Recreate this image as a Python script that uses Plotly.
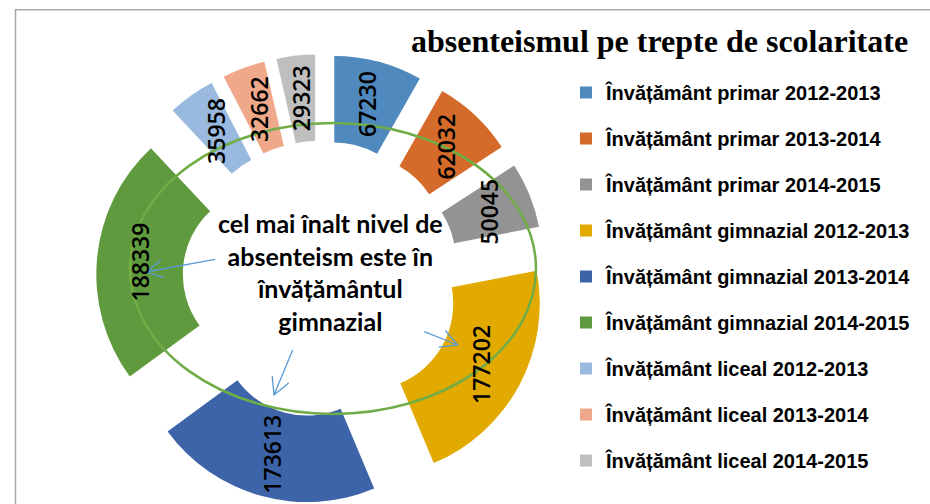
import math
import plotly.graph_objects as go

# ---- data ----
categories = [
    "Învățământ primar 2012-2013",
    "Învățământ primar 2013-2014",
    "Învățământ primar 2014-2015",
    "Învățământ gimnazial 2012-2013",
    "Învățământ gimnazial 2013-2014",
    "Învățământ gimnazial 2014-2015",
    "Învățământ liceal 2012-2013",
    "Învățământ liceal 2013-2014",
    "Învățământ liceal 2014-2015",
]
values = [67230, 62032, 50045, 177202, 173613, 188339, 35958, 32662, 29323]
colors = ["#4F89BE", "#D46B2A", "#939393", "#E2AA00", "#3D64A8",
          "#609A3E", "#99B9DF", "#F0A88B", "#BFBFBF"]
title_text = "absenteismul pe trepte de scolaritate"
note_lines = ["cel mai înalt nivel de", "absenteism este în", "învățământul", "gimnazial"]

# ---- geometry (pixels) ----
W, H = 930, 504
CX = 321
R = 173
HOLE = 0.5
PULL = 0.3
EXT = R * (1 + PULL)
CY = H - EXT


def px(x):
    return x / W


def py(y):
    return 1 - y / H


fig = go.Figure()

fig.add_trace(go.Pie(
    values=values,
    labels=categories,
    marker=dict(colors=colors, line=dict(width=0)),
    hole=HOLE,
    pull=[PULL] * len(values),
    sort=False,
    direction="clockwise",
    rotation=0,
    textinfo="none",
    showlegend=False,
    hoverinfo="label+value",
    domain=dict(x=[px(CX - EXT), px(CX + EXT)], y=[0, 2 * EXT / H]),
))

# value labels (rotated), placed mid-ring on each slice's bisector
total = sum(values)
cum = 0
for v in values:
    theta = 2 * math.pi * (cum + v / 2) / total
    cum += v
    dist = PULL * R + (1 + HOLE) / 2 * R
    lx = CX + dist * math.sin(theta)
    ly = CY - dist * math.cos(theta)
    fig.add_annotation(x=px(lx), y=py(ly), xref="paper", yref="paper",
                       xanchor="center", yanchor="middle",
                       text=f"{v}", textangle=-90, showarrow=False,
                       font=dict(family="Open Sans", size=23, color="black", weight=600))

# legend entries
for name, c in zip(categories, colors):
    fig.add_trace(go.Scatter(
        x=[None], y=[None], mode="markers",
        marker=dict(symbol="square", size=12, color=c),
        name=name, legendgroup=name, hoverinfo="skip"))

# title
fig.add_annotation(x=px(409), y=py(41), xref="paper", yref="paper",
                   xanchor="left", yanchor="middle", showarrow=False,
                   text=title_text,
                   font=dict(family="Liberation Serif", size=32, color="black", weight="bold"))

# centre note
fig.add_annotation(x=px(330), y=py(272), xref="paper", yref="paper",
                   xanchor="center", yanchor="middle", showarrow=False, align="center",
                   text="<br>".join(note_lines),
                   font=dict(family="Lato", size=25, color="black", weight="bold"))

shapes = []
# frame (top & left edges visible)
shapes.append(dict(type="path", xref="paper", yref="paper",
                   path=f"M {px(15.5)},{py(H + 10)} L {px(15.5)},{py(9.7)} L {px(W + 10)},{py(9.7)}",
                   line=dict(color="#A6A6A6", width=1.5)))
# ellipse
shapes.append(dict(type="circle", xref="paper", yref="paper",
                   x0=px(130), x1=px(536), y0=py(414), y1=py(123),
                   line=dict(color="#70AD47", width=2.5)))


def arrow(tail, tip, L=19, ang=28):
    dx, dy = tail[0] - tip[0], tail[1] - tip[1]
    n = math.hypot(dx, dy)
    ux, uy = dx / n, dy / n
    pts = []
    for s in (1, -1):
        a = math.radians(ang * s)
        rx = ux * math.cos(a) - uy * math.sin(a)
        ry = ux * math.sin(a) + uy * math.cos(a)
        pts.append((tip[0] + L * rx, tip[1] + L * ry))
    p = (f"M {px(tail[0])},{py(tail[1])} L {px(tip[0])},{py(tip[1])} "
         f"M {px(pts[0][0])},{py(pts[0][1])} L {px(tip[0])},{py(tip[1])} "
         f"L {px(pts[1][0])},{py(pts[1][1])}")
    return dict(type="path", xref="paper", yref="paper", path=p,
                line=dict(color="#5B9BD5", width=1.3))


shapes.append(arrow((215, 259.3), (146, 272)))
shapes.append(arrow((292.7, 350), (274, 395)))
shapes.append(arrow((424.3, 331.7), (457.7, 345)))

fig.update_layout(
    width=W, height=H,
    margin=dict(l=0, r=0, t=0, b=0),
    paper_bgcolor="white", plot_bgcolor="white",
    xaxis=dict(visible=False), yaxis=dict(visible=False),
    shapes=shapes,
    legend=dict(x=px(566), y=py(73), xanchor="left", yanchor="top",
                tracegroupgap=17, itemwidth=30, bgcolor="rgba(0,0,0,0)",
                font=dict(family="Liberation Sans", size=20, color="black", weight="bold")),
    showlegend=True,
)

fig.write_html(
    "out.html",
    config={"displayModeBar": False},
    post_script="document.body.style.margin='0px';document.body.style.overflow='hidden';",
)
